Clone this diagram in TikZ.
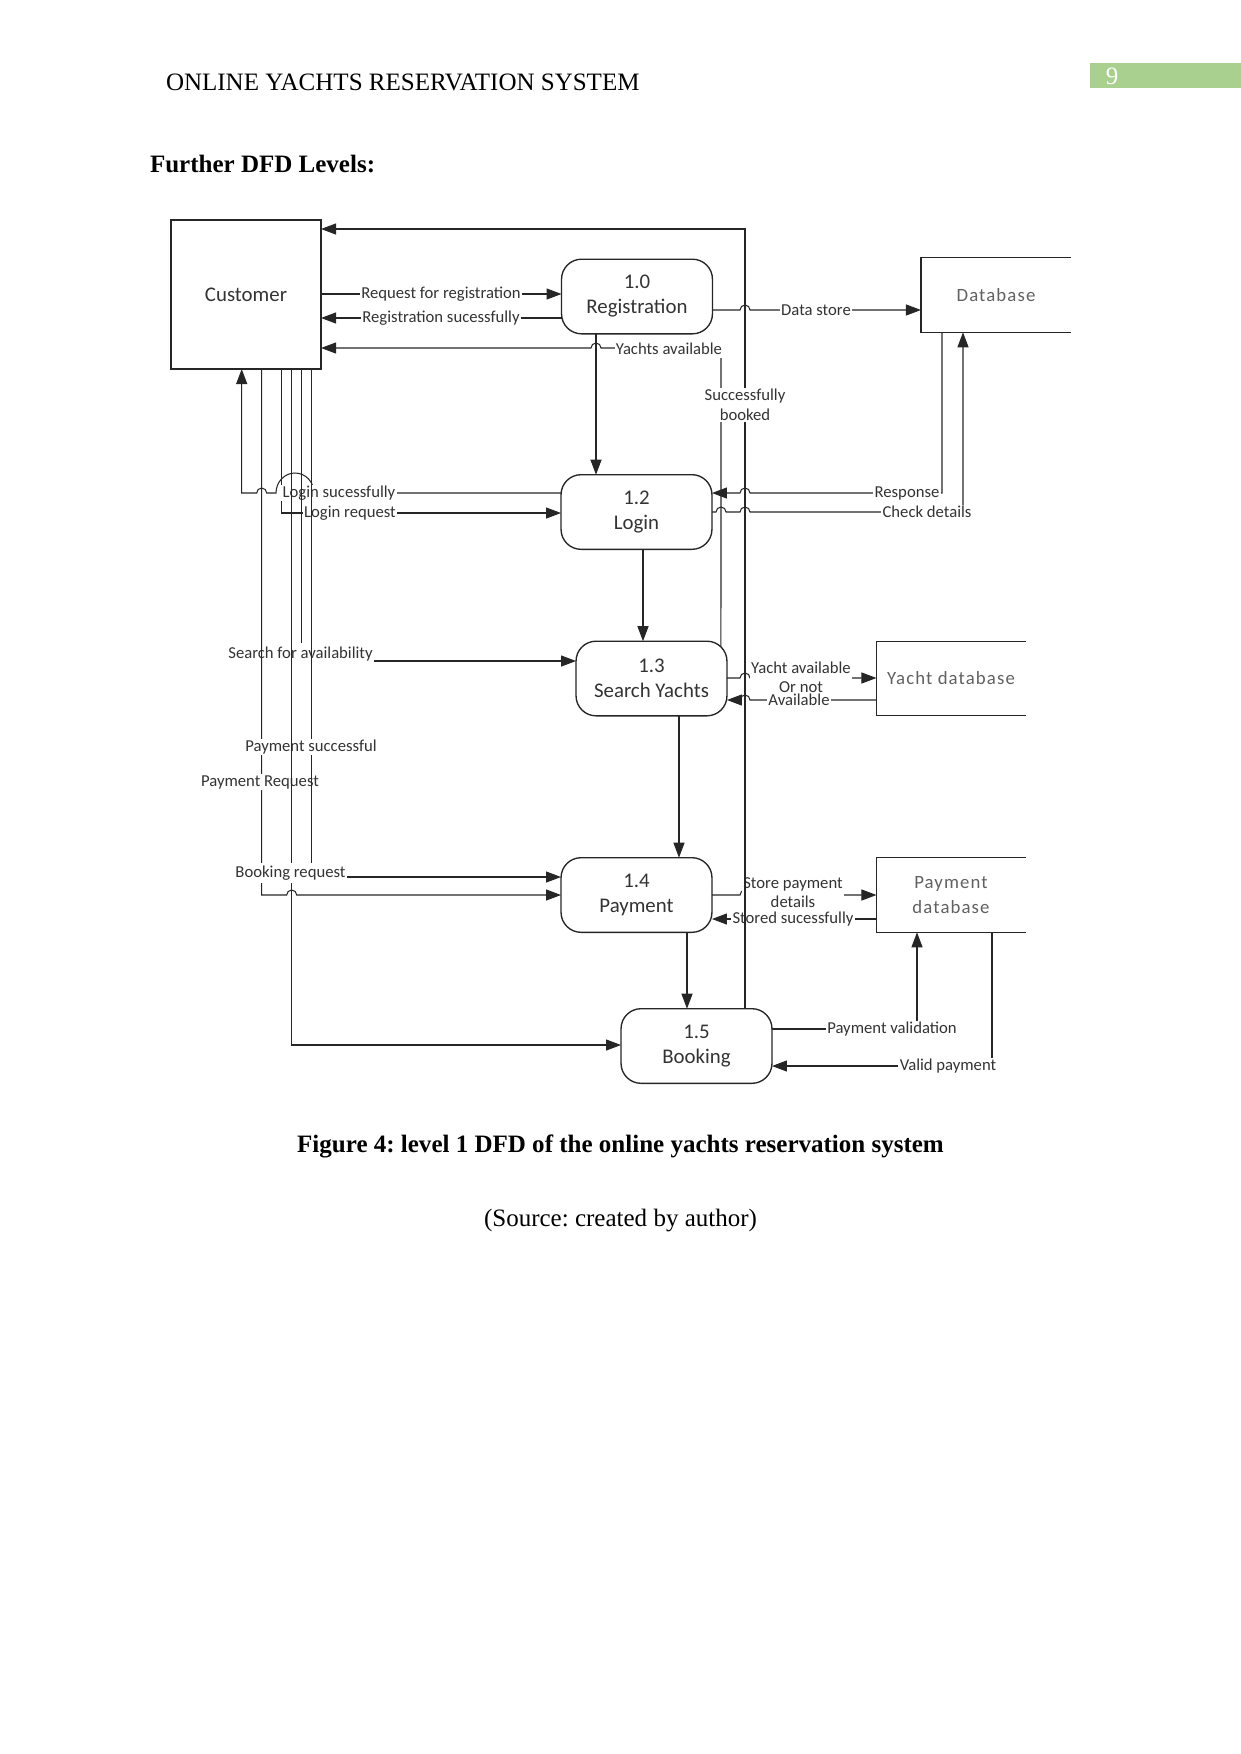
\documentclass[tikz,border=0pt]{standalone}
\usepackage{fontspec}
\setmainfont{Liberation Serif}
\newfontfamily\calfont{Carlito}
\newfontfamily\calspfont[LetterSpace=6]{Carlito}
\usetikzlibrary{arrows.meta,calc}
\definecolor{hdrgreen}{HTML}{A9D08E}
\definecolor{ink}{HTML}{262626}
\frenchspacing
\begin{document}
\begin{tikzpicture}[x=0.47968pt,y=-0.47968pt,
  every node/.style={inner sep=0pt,outer sep=0pt},
  proc/.style={draw=ink,line width=0.65pt,rounded corners=9.6pt,minimum width=72.4pt,minimum height=35.8pt,align=center,font=\calfont\fontsize{10}{12}\selectfont,text=black!80},
  ent/.style={draw=ink,line width=0.75pt,minimum width=72pt,minimum height=71.5pt,font=\calfont\fontsize{10}{12}\selectfont,text=black!80},
  store/.style={minimum width=71.5pt,minimum height=35.8pt,align=center,font=\calspfont\fontsize{9}{12}\selectfont,text=black!62},
  storeline/.style={draw=ink,line width=0.6pt},
  flow/.style={draw=ink,line width=0.5pt,-{Triangle[length=7.2pt,width=5.3pt]}},
  lbl/.style={fill=white,inner sep=0.6pt,font=\calfont\fontsize{8}{9.4}\selectfont,text=black!80,align=center},
]
\useasboundingbox (0,0) rectangle (1241,1754);

% page header and captions
\node[anchor=base west,font=\fontsize{12}{14}\selectfont] (hdr) at (166,90) {ONLINE YACHTS RESERVATION SYSTEM};
\fill[hdrgreen] (1090,63) rectangle (1241,88);
\node[text=white,font=\fontsize{12}{14}\selectfont] (pgnum) at (1112,76) {9};
\node[anchor=base west,font=\bfseries\fontsize{12}{14}\selectfont] (title) at (150,172) {Further DFD Levels:};
\node[anchor=base,font=\bfseries\fontsize{12}{14}\selectfont] (cap) at (620.5,1152) {Figure 4: level 1 DFD of the online yachts reservation system};
\node[anchor=base,font=\fontsize{12}{14}\selectfont] (src) at (620.5,1226) {(Source: created by author)};

% nodes
\node[ent] (cust) at (246,294.5) {Customer};
\node[proc] (reg) at (637,296.5) {1.0\\Registration};
\node[proc] (login) at (636.5,512) {1.2\\Login};
\node[proc] (search) at (651.5,678.5) {1.3\\Search Yachts};
\node[proc] (pay) at (636.5,895) {1.4\\Payment};
\node[proc] (book) at (696.5,1046) {1.5\\Booking};
\node[store,minimum width=72pt] (db) at (996,295) {Database};
\node[store] (ydb) at (951,678.5) {Yacht database};
\node[store] (pdb) at (951,895) {Payment\\database};
\draw[storeline] (db.north east) -- (db.north west) -- (db.south west) -- (db.south east);
\draw[storeline] (ydb.north east) -- (ydb.north west) -- (ydb.south west) -- (ydb.south east);
\draw[storeline] (pdb.north east) -- (pdb.north west) -- (pdb.south west) -- (pdb.south east);

% registration flows
\draw[flow] (cust.east |- 0,294) -- (reg.west |- 0,294);
\node[lbl] (l1) at (441,294) {Request for registration};
\draw[flow] (reg.west |- 0,318) -- (cust.east |- 0,318);
\node[lbl] (l2) at (441,318) {Registration sucessfully};

% yachts available
\draw[flow] ($(search.north east)+(-6,6)$) -- (721,348) -- (601,348) arc[start angle=0,end angle=-180,x radius=5,y radius=5] -- (cust.east |- 0,348);
\node[lbl,inner ysep=1.6pt] (l3) at (669,349) {Yachts available};

% data store
\draw[flow] (reg.east |- 0,310) -- (740,310) arc[start angle=180,end angle=360,x radius=5,y radius=5] -- (db.west |- 0,310);
\node[lbl] (l5) at (816,310) {Data store};

% response / check details
\draw[flow] (942,0 |- db.south) -- (942,493) -- (750,493) arc[start angle=0,end angle=-180,x radius=5,y radius=5] -- (login.east |- 0,493);
\node[lbl] (l6) at (907,493) {Response};
\draw[flow] (login.east |- 0,512) -- (716,512) arc[start angle=180,end angle=360,x radius=5,y radius=5] -- (740,512) arc[start angle=180,end angle=360,x radius=5,y radius=5] -- (963,512) -- (963,0 |- db.south);
\node[lbl] (l7) at (927,512) {Check details};

% process chain
\draw[flow] (596,0 |- reg.south) -- (596,0 |- login.north);
\draw[flow] (643,0 |- login.south) -- (643,0 |- search.north);
\draw[flow] (679,0 |- search.south) -- (679,0 |- pay.north);
\draw[flow] (687,0 |- pay.south) -- (687,0 |- book.north);

% yacht database
\draw[flow] (search.east |- 0,678) -- (740,678) arc[start angle=180,end angle=360,x radius=5,y radius=5] -- (ydb.west |- 0,678);
\node[lbl,font=\calfont\fontsize{8}{9}\selectfont] (l12) at (801,677) {Yacht available\\Or not};
\draw[flow] (ydb.west |- 0,700) -- (750,700) arc[start angle=0,end angle=-180,x radius=5,y radius=5] -- (search.east |- 0,700);
\node[lbl] (l13) at (799,700) {Available};

% payment database
\draw[flow] (pay.east |- 0,895) -- (740,895) arc[start angle=180,end angle=360,x radius=5,y radius=5] -- (pdb.west |- 0,895);
\node[lbl,font=\calfont\fontsize{8}{9}\selectfont] (l14) at (793,893) {Store payment\\details};
\draw[flow] (pdb.west |- 0,919) -- (pay.east |- 0,919);
\node[lbl] (l15) at (793,919) {Stored sucessfully};

% successfully booked
\draw[flow] (745,0 |- book.north) -- (745,229) -- (cust.east |- 0,229);
\node[lbl] (l4) at (745,405) {Successfully\\booked};

% booking and payment database
\draw[flow] (book.east |- 0,1029) -- (917,1029) -- (917,0 |- pdb.south);
\node[lbl] (l16) at (892,1029) {Payment validation};
\draw[flow] (992,0 |- pdb.south) -- (992,1066) -- (book.east |- 0,1066);
\node[lbl] (l17) at (948,1066) {Valid payment};

% customer side flows
\draw[flow] (281.7,0 |- cust.south) -- (281.7,513) -- (login.west |- 0,513);
\node[lbl] (l19) at (350,513) {Login request};
\draw[flow] (login.west |- 0,493) -- (314,493) arc[start angle=0,end angle=-180,x radius=19,y radius=20] -- (266.7,493) arc[start angle=0,end angle=-180,x radius=5,y radius=5] -- (241.7,493) -- (241.7,0 |- cust.south);
\node[lbl] (l18) at (339,493) {Login sucessfully};
\draw[flow] (301.7,0 |- cust.south) -- (301.7,661) -- (search.west |- 0,661);
\node[lbl,inner ysep=1.8pt] (l20) at (300.5,654) {Search for availability};
\draw[flow] (261.7,0 |- cust.south) -- (261.7,895) -- (286.7,895) arc[start angle=180,end angle=360,x radius=5,y radius=5] -- (pay.west |- 0,895);
\node[lbl] (l22) at (260,782) {Payment Request};
\draw[flow] (311.7,0 |- cust.south) -- (311.7,877) -- (pay.west |- 0,877);
\node[lbl] (l21) at (311,747) {Payment successful};
\draw[flow] (291.7,0 |- cust.south) -- (291.7,1045) -- (book.west |- 0,1045);
\node[lbl,inner ysep=1.4pt] (l23) at (290.5,873) {Booking request};
\end{tikzpicture}
\end{document}
